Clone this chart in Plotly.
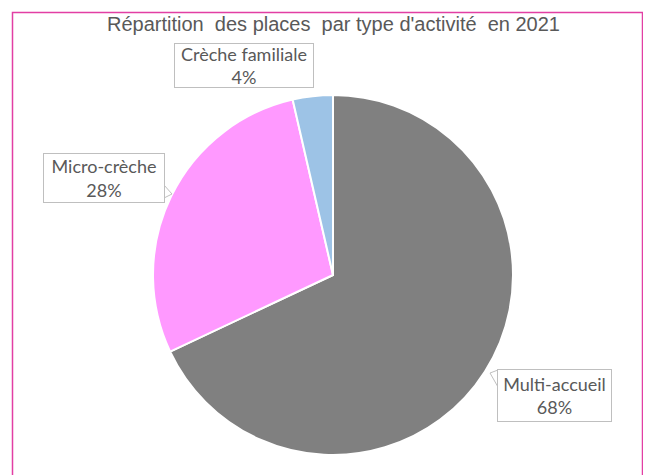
import plotly.graph_objects as go

categories = ["Multi-accueil", "Micro-crèche", "Crèche familiale"]
values = [68.0, 28.4, 3.6]
colors = ["#808080", "#FF99FF", "#9DC3E6"]
title_text = "Répartition\u00a0 des places\u00a0 par type d'activité\u00a0 en 2021"

OFF = 8  # page body margin
W, H = 643, 467

def px(x):
    return (x - OFF) / W

def py(y):
    return 1 - (y - OFF) / H

fig = go.Figure()
fig.add_trace(go.Pie(
    labels=categories,
    values=values,
    sort=False,
    direction="clockwise",
    rotation=0,
    marker=dict(colors=colors, line=dict(color="white", width=2)),
    textinfo="none",
    hoverinfo="label+percent",
    domain=dict(x=[px(153), px(513)], y=[py(455), py(95)]),
    showlegend=False,
))

# callout pointers (drawn below the label boxes)
fig.add_shape(type="path", xref="paper", yref="paper",
              path=f"M {px(164)} {py(185)} L {px(172)} {py(194)} L {px(164)} {py(198)}",
              fillcolor="white", line=dict(color="#BFBFBF", width=1))
fig.add_shape(type="path", xref="paper", yref="paper",
              path=f"M {px(498)} {py(370)} L {px(490)} {py(373)} L {px(498)} {py(387)}",
              fillcolor="white", line=dict(color="#BFBFBF", width=1))

total = sum(values)
label_box = {
    # center x, center y, width, height (screen px)
    "Multi-accueil": (554.5, 395.5, 115, 53),
    "Micro-crèche": (104, 178, 122, 50),
    "Crèche familiale": (244, 65.5, 140, 45),
}
for cat, v in zip(categories, values):
    x, y, bw, bh = label_box[cat]
    fig.add_annotation(
        x=px(x), y=py(y), xref="paper", yref="paper",
        xanchor="center", yanchor="middle",
        text=f"{cat}<br>{round(100 * v / total)}%",
        showarrow=False,
        font=dict(family="Lato, Carlito, Calibri, sans-serif", size=18, color="#595959"),
        bgcolor="white", bordercolor="#BFBFBF", borderwidth=1, borderpad=3,
        width=bw - 8, height=bh - 8,
        align="center", valign="middle",
    )

fig.add_annotation(
    x=px(333), y=py(24), xref="paper", yref="paper",
    xanchor="center", yanchor="middle",
    text=title_text, showarrow=False,
    font=dict(family="Liberation Sans, Arial, sans-serif", size=20, color="#595959"),
)

# outer border
fig.add_shape(type="rect", xref="paper", yref="paper",
              x0=px(12.5), x1=px(642.5), y0=py(500), y1=py(12.5),
              line=dict(color="#E23FA4", width=1.5), layer="below")

fig.update_layout(
    width=W, height=H,
    margin=dict(l=0, r=0, t=0, b=0),
    paper_bgcolor="white", plot_bgcolor="white",
)
fig.write_html("out.html")
